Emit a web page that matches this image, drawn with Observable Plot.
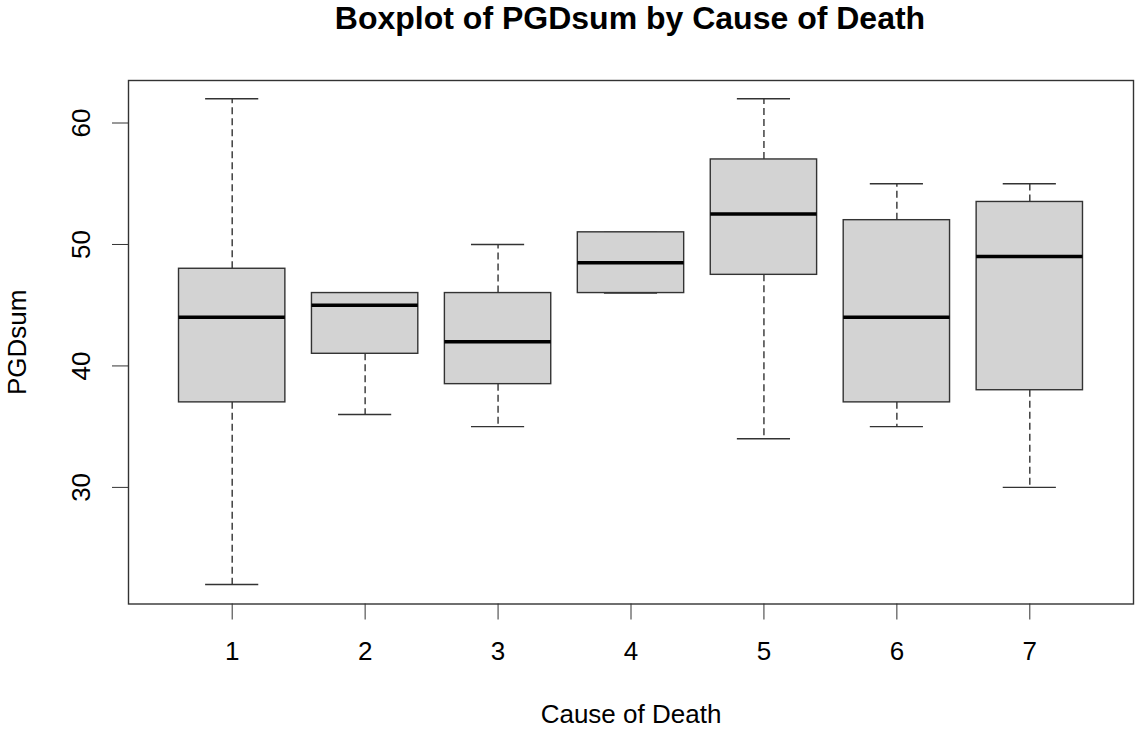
<!DOCTYPE html>
<html><head><meta charset="utf-8">
<script src="https://cdn.jsdelivr.net/npm/d3@7"></script>
<script src="https://cdn.jsdelivr.net/npm/@observablehq/plot@0.6"></script>
<style>
body{margin:0;background:#fff;font-family:"Liberation Sans",Arial,sans-serif;}
#title{height:36px;box-sizing:border-box;padding-left:124px;text-align:center;font-weight:bold;font-size:32px;line-height:36px;color:#000;white-space:nowrap;}
#chart svg{display:block;}
</style></head><body>
<div id="title"></div>
<div id="chart"></div>
<script>
const chartTitle = "Boxplot of PGDsum by Cause of Death";
const xLabel = "Cause of Death";
const yLabel = "PGDsum";
const causes = ["1","2","3","4","5","6","7"];
const whiskerLow  = [22, 36, 35,   46,   34,   35, 30];
const q1          = [37, 41, 38.5, 46,   47.5, 37, 38];
const median      = [44, 45, 42,   48.5, 52.5, 44, 49];
const q3          = [48, 46, 46,   51,   57,   52, 53.5];
const whiskerHigh = [62, 46, 50,   51,   62,   55, 55];
const yTicks = [30, 40, 50, 60];

document.getElementById("title").textContent = chartTitle;

const rows = causes.map((c, i) => ({cause: c, lo: whiskerLow[i], q1: q1[i], med: median[i], q3: q3[i], hi: whiskerHigh[i]}));
const upper = rows.filter(d => d.hi > d.q3);
const lower = rows.filter(d => d.lo < d.q1);

const lineColor = "#333";
const capInset = 26.6;

const chart = Plot.plot({
  width: 1136,
  height: 694,
  marginLeft: 128,
  marginRight: 3,
  marginTop: 44,
  marginBottom: 126.5,
  x: {type: "band", domain: causes, paddingInner: 0.2, paddingOuter: 0.38, round: false, label: null},
  y: {domain: [20.4, 63.5], label: null},
  style: {fontFamily: "Liberation Sans, Arial, sans-serif", fontSize: "26px", color: "#000", background: "#fff"},
  marks: [
    Plot.ruleX(upper, {x: "cause", y1: "q3", y2: "hi", stroke: lineColor, strokeWidth: 1.4, strokeDasharray: "7,4"}),
    Plot.ruleX(lower, {x: "cause", y1: "q1", y2: "lo", stroke: lineColor, strokeWidth: 1.4, strokeDasharray: "7,4"}),
    Plot.tickY(rows, {x: "cause", y: "hi", stroke: lineColor, strokeWidth: 1.4, insetLeft: capInset, insetRight: capInset}),
    Plot.tickY(rows, {x: "cause", y: "lo", stroke: lineColor, strokeWidth: 1.4, insetLeft: capInset, insetRight: capInset}),
    Plot.barY(rows, {x: "cause", y1: "q1", y2: "q3", fill: "#d3d3d3", stroke: lineColor, strokeWidth: 1.4}),
    Plot.tickY(rows, {x: "cause", y: "med", stroke: "#000", strokeWidth: 3.5}),
    Plot.frame({stroke: lineColor, strokeWidth: 1.4}),
    Plot.axisX({tickSize: 16, tickPadding: 22, fontSize: 26, label: null, stroke: lineColor}),
    Plot.axisY({ticks: yTicks, tickSize: 16, tickFormat: () => "", label: null, stroke: lineColor}),
    Plot.text(yTicks, {y: d => d, text: d => String(d), frameAnchor: "left", dx: -47, rotate: -90, fontSize: 26, textAnchor: "middle", lineAnchor: "middle", fill: "#000"}),
    Plot.text([xLabel], {text: d => d, frameAnchor: "bottom", dy: 110.5, fontSize: 26, lineAnchor: "middle", fill: "#000"}),
    Plot.text([yLabel], {text: d => d, frameAnchor: "left", dx: -111, rotate: -90, fontSize: 26, textAnchor: "middle", lineAnchor: "middle", fill: "#000"})
  ]
});
document.getElementById("chart").appendChild(chart);
</script>
</body></html>
